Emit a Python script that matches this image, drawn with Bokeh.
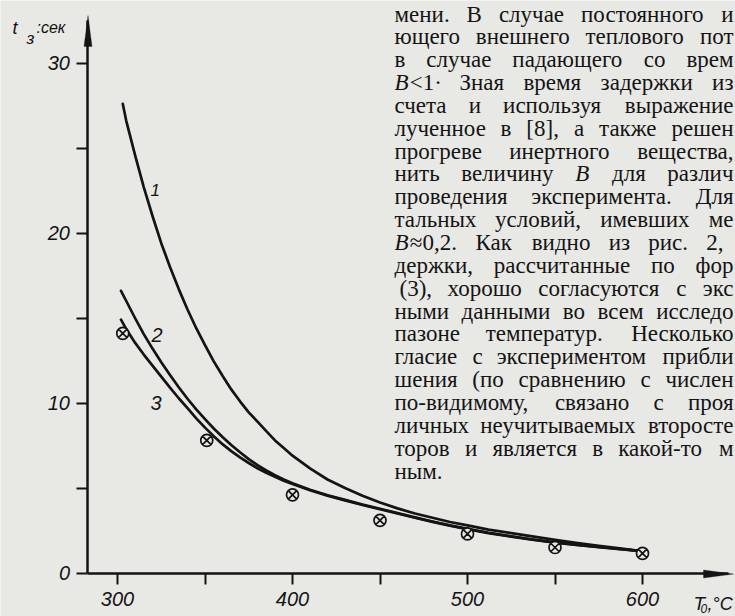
from bokeh.plotting import figure
from bokeh.models import Range1d, LinearAxis, FixedTicker, Label, PolyAnnotation
from bokeh.embed import file_html
from bokeh.resources import INLINE

# ---------------- data ----------------
temp_ticks = [300, 350, 400, 450, 500, 550, 600]
temp_tick_labels = ["300", "", "400", "", "500", "", "600"]
time_ticks = [0, 5, 10, 15, 20, 25, 30]
time_tick_labels = ["0", "", "10", "", "20", "", "30"]

# curve 1
c1_T = [303, 305, 310, 315, 320, 325, 330, 335, 340, 345, 350, 355, 360, 365, 370, 375, 380, 385,
        390, 395, 400, 410, 420, 430, 440, 450, 460, 470, 480, 490, 500, 512, 525, 537, 550, 562,
        575, 587, 598]
c1_t = [27.6, 26.6, 24.6, 22.7, 21.0, 19.4, 18.0, 16.7, 15.5, 14.4, 13.4, 12.45, 11.6, 10.8, 10.1,
        9.45, 8.9, 8.35, 7.8, 7.35, 6.9, 6.15, 5.5, 5.0, 4.55, 4.15, 3.8, 3.5, 3.25, 3.0, 2.8, 2.55,
        2.35, 2.15, 1.95, 1.77, 1.6, 1.45, 1.3]
# curve 2
c2_T = [302, 305, 310, 315, 320, 325, 330, 335, 340, 345, 350, 355, 360, 365, 370, 375, 380, 385,
        390, 395, 400, 410, 420, 430, 440, 450, 460, 470, 480, 490, 500, 512, 525, 537, 550, 562,
        575, 587, 598]
c2_t = [16.6, 16.0, 15.0, 14.05, 13.2, 12.4, 11.65, 10.93, 10.25, 9.63, 9.05, 8.5, 8.0, 7.53, 7.1,
        6.7, 6.35, 6.03, 5.75, 5.5, 5.28, 4.9, 4.57, 4.3, 4.03, 3.78, 3.52, 3.27, 3.03, 2.8, 2.6,
        2.37, 2.16, 1.97, 1.8, 1.66, 1.53, 1.41, 1.3]
# curve 3
c3_T = [302, 305, 310, 315, 320, 325, 330, 335, 340, 345, 350, 355, 360, 365, 370, 375, 380, 385,
        390, 395, 400, 410, 420, 430, 440, 450, 460, 470, 480, 490, 500, 512, 525, 537, 550, 562,
        575, 587, 598]
c3_t = [14.9, 14.35, 13.55, 12.85, 12.2, 11.55, 10.9, 10.28, 9.7, 9.1, 8.55, 8.05, 7.58, 7.17, 6.8,
        6.47, 6.16, 5.9, 5.66, 5.43, 5.23, 4.87, 4.55, 4.27, 4.0, 3.75, 3.5, 3.25, 3.01, 2.78, 2.58,
        2.35, 2.14, 1.96, 1.79, 1.65, 1.52, 1.4, 1.3]
# experiment
exp_T = [303, 351, 400, 450, 500, 550, 600]
exp_t = [14.1, 7.8, 4.6, 3.1, 2.3, 1.5, 1.15]

curve_names = ["1", "2", "3"]

page_lines = [
    "мени. В случае постоянного и",
    "ющего внешнего теплового пот",
    "в случае падающего со врем",
    "B<1· Зная время задержки из",
    "счета и используя выражение",
    "лученное в [8], а также решен",
    "прогреве инертного вещества,",
    "нить величину B для различ",
    "проведения эксперимента. Для",
    "тальных условий, имевших ме",
    "B≈0,2. Как видно из рис. 2,",
    "держки, рассчитанные по фор",
    "(3), хорошо согласуются с экс",
    "ными данными во всем исследо",
    "пазоне температур. Несколько",
    "гласие с экспериментом прибли",
    "шения (по сравнению с числен",
    "по-видимому, связано с проя",
    "личных неучитываемых второсте",
    "торов и является в какой-то м",
    "ным.",
]

# ---------------- geometry (image pixels -> data) ----------------
W, H = 735, 616
X0_PX, XS = 117.0, 1.75     # pixel of T=300, px per degree
Y0_PX, YS = 572.5, 17.0     # pixel of t=0, px per second


def dx(px):
    return 300 + (px - X0_PX) / XS


def dy(py):
    return (Y0_PX - py) / YS


BG = "#e8e8e5"
INK = "#141414"

p = figure(width=W, height=H, output_backend="svg", toolbar_location=None,
           x_range=Range1d(dx(0), dx(W)), y_range=Range1d(dy(H), dy(0)),
           x_axis_location=None, y_axis_location=None,
           background_fill_color=BG, border_fill_color=BG, min_border=0)
p.outline_line_color = None
p.grid.grid_line_color = None

tick_font = "Liberation Sans"

xax = LinearAxis(fixed_location=0, ticker=FixedTicker(ticks=temp_ticks),
                 bounds=(dx(86.5), dx(728)))
xax.major_label_overrides = {t: l for t, l in zip(temp_ticks, temp_tick_labels)}
yax = LinearAxis(fixed_location=dx(86.5), ticker=FixedTicker(ticks=time_ticks),
                 bounds=(0, dy(20)))
yax.major_label_overrides = {t: l for t, l in zip(time_ticks, time_tick_labels)}
for ax in (xax, yax):
    ax.axis_line_width = 2.5
    ax.axis_line_color = INK
    ax.major_tick_line_width = 2
    ax.major_tick_line_color = INK
    ax.major_tick_in = 0
    ax.major_tick_out = 11
    ax.minor_tick_line_color = None
    ax.major_label_text_font = tick_font
    ax.major_label_text_font_style = "italic"
    ax.major_label_text_font_size = "20px"
    ax.major_label_text_color = INK
xax.major_label_standoff = 8
yax.major_label_standoff = 6
p.add_layout(xax, "below")
p.add_layout(yax, "left")

# arrow heads
p.add_layout(PolyAnnotation(xs=[dx(87.5), dx(83.5), dx(91.5)], ys=[dy(15), dy(46), dy(46)],
                            fill_color=INK, fill_alpha=1, line_color=INK, line_width=1))
p.add_layout(PolyAnnotation(xs=[dx(733), dx(703), dx(703)], ys=[dy(573.5), dy(569.5), dy(577.5)],
                            fill_color=INK, fill_alpha=1, line_color=INK, line_width=1))

# curves
for T, t in ((c1_T, c1_t), (c2_T, c2_t), (c3_T, c3_t)):
    p.line(T, t, line_color=INK, line_width=2.7, line_join="round", line_cap="round")

p.scatter(exp_T, exp_t, marker="circle_x", size=12, line_color=INK, line_width=1.7,
          fill_color=BG)

# curve numbers
for name, (px, py, fs) in zip(curve_names, [(150, 189, "17px"), (151, 334, "20px"), (150, 402, "20px")]):
    p.add_layout(Label(x=dx(px), y=dy(py), text=name, text_font=tick_font,
                       text_font_style="italic", text_font_size=fs, text_color=INK,
                       text_baseline="alphabetic"))


def lab(px, py, text, font=tick_font, size="18px", style="italic", align="left"):
    p.add_layout(Label(x=dx(px), y=dy(py), text=text, text_font=font, text_font_style=style,
                       text_font_size=size, text_color=INK, text_baseline="alphabetic",
                       text_align=align))


# axis titles
lab(12, 27, "t", size="18px")
lab(26, 38, "з", size="17px")
lab(36, 27, ":сек", size="16px")
lab(693, 603, "T", size="19px")
lab(700, 608, "0", size="12px")
lab(707, 603, ",°C", size="18px")

# ---------------- page text, justified word by word ----------------
SERIF = "Liberation Serif"
FS = 23
_w = {}
for chs, wd in [("аеэс", 0.444), ("б", 0.509), ("в", 0.472), ("г", 0.41), ("д", 0.509),
                ("ж", 0.691), ("з", 0.395), ("ийнпц", 0.535), ("к", 0.486), ("л", 0.499),
                ("м", 0.633), ("ор", 0.5), ("т", 0.437), ("ух", 0.5), ("ф", 0.648),
                ("ч", 0.503), ("шщ", 0.77), ("ъ", 0.517), ("ы", 0.672), ("ь", 0.456),
                ("ю", 0.747), ("я", 0.46), ("В", 0.667), ("З", 0.501), ("Д", 0.682),
                ("К", 0.722), ("Н", 0.722), ("B", 0.667), ("0123456789", 0.5),
                (".,·", 0.25), ("()[]-", 0.333), ("<≈", 0.564)]:
    for c in chs:
        _w[c] = wd


def text_w(s):
    return sum(_w.get(c, 0.5) for c in s) * FS


line_ends = {10: 723, 20: None}
for i, line in enumerate(page_lines):
    base = 13.5 + 22.85 * i
    x_start = 399 if line.startswith("(") else 394
    words = line.split()
    end = line_ends.get(i, 733)
    widths = [text_w(wd) for wd in words]
    if end is None or len(words) == 1:
        gap = 0.25 * FS
    else:
        gap = (end - x_start - sum(widths)) / (len(words) - 1)
    x = x_start
    for j, wd in enumerate(words):
        last = (j == len(words) - 1) and end is not None and len(words) > 1
        if wd.startswith("B"):
            lab(x, base, "B", font=SERIF, size=f"{FS}px", style="italic")
            lab(x + text_w("B"), base, wd[1:], font=SERIF, size=f"{FS}px", style="normal")
        elif last:
            lab(end, base, wd, font=SERIF, size=f"{FS}px", style="normal", align="right")
        else:
            lab(x, base, wd, font=SERIF, size=f"{FS}px", style="normal")
        x += widths[j] + gap

open("out.html", "w").write(file_html(p, INLINE))
